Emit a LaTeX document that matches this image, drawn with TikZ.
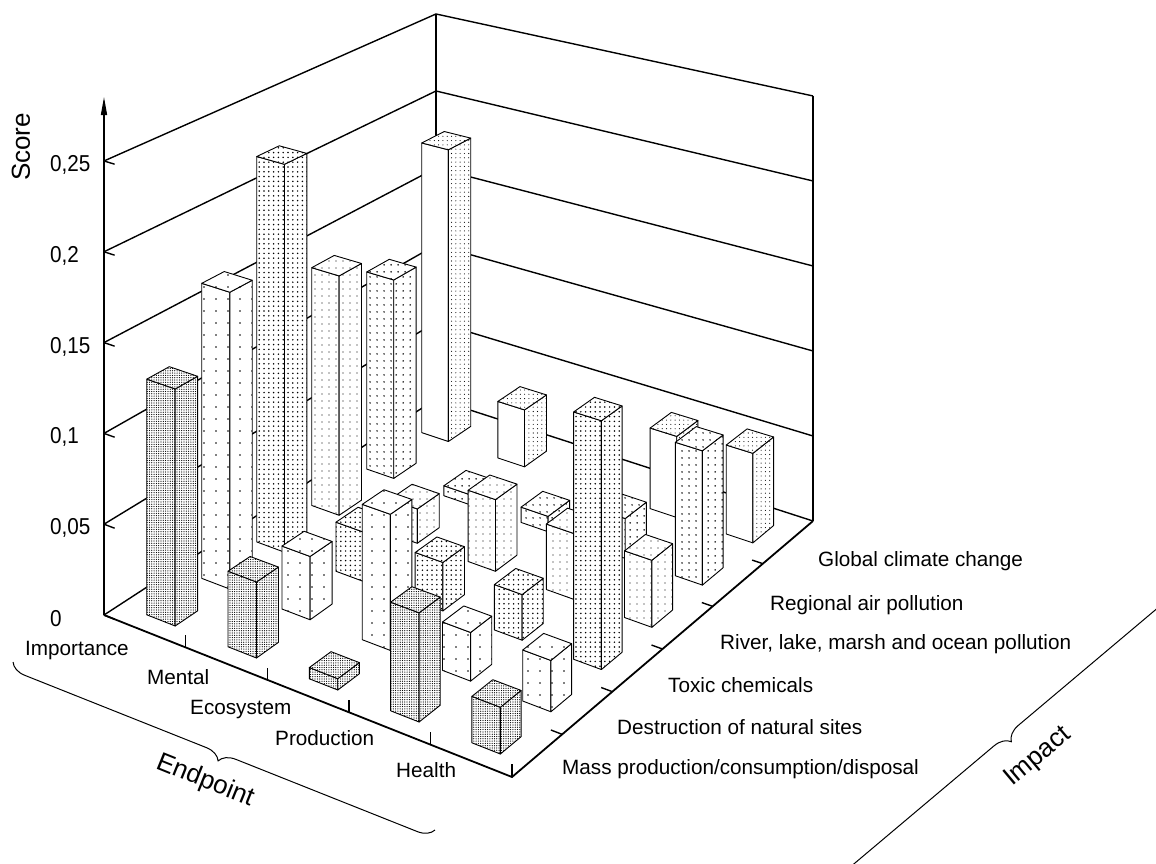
\documentclass[tikz,border=0pt]{standalone}
\usepackage{fontspec}
\setmainfont{Liberation Sans}
\newfontfamily\tickfont[FakeStretch=0.9]{Liberation Sans}
\usetikzlibrary{patterns.meta,arrows.meta,decorations.pathreplacing}

% floor point (endpoint X in 0..5, impact Y in 0..6) lifted by a score
\newcommand\proj[4]{%
  \pgfmathsetmacro\pu{#2/5}%
  \pgfmathsetmacro\pv{#3/6}%
  \pgfmathsetmacro\px{104+408*\pu+332*\pv-31*\pu*\pv}%
  \pgfmathsetmacro\py{615+162*\pu-216*\pv-40*\pu*\pv-(1816+154*\pu-276*\pv+6*\pu*\pv)*#4}%
  \coordinate (#1) at (\px,\py);}

% one bar: row, column, score, left face, right and top faces
\newcommand\scorebar[5]{%
  \pgfmathsetmacro\bxa{#1+0.325}\pgfmathsetmacro\bxb{#1+0.675}%
  \pgfmathsetmacro\bya{#2+0.295}\pgfmathsetmacro\byb{#2+0.705}%
  \proj{a}{\bxa}{\bya}{0}\proj{b}{\bxb}{\bya}{0}\proj{c}{\bxb}{\byb}{0}%
  \proj{at}{\bxa}{\bya}{#3}\proj{bt}{\bxb}{\bya}{#3}%
  \proj{ct}{\bxb}{\byb}{#3}\proj{dt}{\bxa}{\byb}{#3}%
  \path[face,#4] (a) -- (b) -- (bt) -- (at) -- cycle;
  \path[face,#5] (b) -- (c) -- (ct) -- (bt) -- cycle;
  \path[face,#5] (at) -- (bt) -- (ct) -- (dt) -- cycle;}

\tikzset{
  face/.style={draw,line width=0.9pt,line join=round,preaction={fill=white}},
  mp/.style={pattern={Dots[distance=2.3pt,radius=0.62pt]}},
  dn/.style={pattern={Dots[distance=12pt,radius=0.95pt]}},
  tc/.style={pattern={Dots[distance=4.8pt,radius=0.85pt]}},
  rl/.style={pattern={Dots[distance=7pt,radius=0.65pt]}},
  ra/.style={pattern={Dots[distance=6.5pt,radius=0.9pt]}},
  gc/.style={pattern={Dots[distance=4.3pt,radius=0.55pt]}},
  blank/.style={},
  wall/.style={line width=1.4pt},
  axis/.style={line width=1.8pt},
  curly/.style={decorate,decoration={brace,amplitude=16pt},line width=1pt},
  big/.style={font=\fontsize{26}{30}\selectfont}
}

\begin{document}
\begin{tikzpicture}[x=1pt,y=-1pt]
  \useasboundingbox (0,0) rectangle (1156,863);
  \clip (0,0) rectangle (1156,863);

  % Walls and score ticks
  \foreach \n/\txt in {0/0,1/{0,05},2/{0,1},3/{0,15},4/{0,2},5/{0,25}}{
    \pgfmathsetmacro\lev{\n*0.05}
    \proj{m\n}{0}{6}{\lev}
    \proj{r\n}{5}{6}{\lev}
    \proj{t\n}{0.13}{0}{\lev}
    \proj{l\n}{0}{0}{\lev}
    \node[anchor=west,inner sep=0pt,font=\tickfont\fontsize{23}{26}\selectfont]
      (v\n) at (50,\py+4) {\txt};
    \draw[wall] (l\n) -- (m\n) -- (r\n);
    \draw[wall] (l\n) -- (t\n);
  }
  \draw[wall] (m0) -- (m5);
  \draw[wall] (r0) -- (r5);

  % Score axis
  \coordinate (top) at (104,97);
  \draw[wall,-{Triangle[length=18pt,width=6pt]}] (l0) -- (top);
  \node[big,rotate=90] (score) at (21,147) {Score};

  % Bars, back to front
  \scorebar{0}{5}{0.183}{blank}{gc}
  \scorebar{0}{4}{0.121}{ra}{ra}
  \scorebar{1}{5}{0.035}{blank}{gc}
  \scorebar{0}{3}{0.142}{rl}{rl}
  \scorebar{1}{4}{0.006}{ra}{ra}
  \scorebar{0}{2}{0.224}{tc}{tc}
  \scorebar{1}{3}{0.020}{rl}{rl}
  \scorebar{2}{4}{0.009}{ra}{ra}
  \scorebar{3}{5}{0.048}{blank}{gc}
  \scorebar{0}{1}{0.167}{dn}{dn}
  \scorebar{1}{2}{0.028}{tc}{tc}
  \scorebar{2}{3}{0.041}{rl}{rl}
  \scorebar{3}{4}{0.023}{ra}{ra}
  \scorebar{4}{5}{0.052}{blank}{gc}
  \scorebar{0}{0}{0.130}{mp}{mp}
  \scorebar{1}{1}{0.035}{dn}{dn}
  \scorebar{2}{2}{0.027}{tc}{tc}
  \scorebar{3}{3}{0.037}{rl}{rl}
  \scorebar{4}{4}{0.076}{ra}{ra}
  \scorebar{1}{0}{0.041}{mp}{mp}
  \scorebar{2}{1}{0.074}{dn}{dn}
  \scorebar{3}{2}{0.025}{tc}{tc}
  \scorebar{4}{3}{0.037}{rl}{rl}
  \scorebar{2}{0}{0.006}{mp}{mp}
  \scorebar{3}{1}{0.026}{dn}{dn}
  \scorebar{4}{2}{0.134}{tc}{tc}
  \scorebar{3}{0}{0.057}{mp}{mp}
  \scorebar{4}{1}{0.027}{dn}{dn}
  \scorebar{4}{0}{0.024}{mp}{mp}

  % Floor axes
  \foreach \n in {1,...,5}{
    \proj{e\n}{\n}{0}{0}
    \proj{eu\n}{\n}{0}{0.0065}
    \draw[wall] (e\n) -- (eu\n);
    \proj{f\n}{5}{\n}{0}
    \proj{fi\n}{4.86}{\n}{0}
    \draw[wall] (f\n) -- (fi\n);
  }
  \draw[axis,line join=miter] (l0) -- (e5) -- (r0);

  % Labels
  \begin{scope}[every node/.style={anchor=base west,inner sep=0pt,font=\fontsize{20.7}{24}\selectfont}]
    \node (imp) at (25,655) {Importance};
    \node (men) at (147,684) {Mental};
    \node (eco) at (190,714) {Ecosystem};
    \node (pro) at (275,745) {Production};
    \node (hea) at (396,777) {Health};

    \node (gcc) at (818,566) {Global climate change};
    \node (rap) at (770,610) {Regional air pollution};
    \node (rlp) at (720,649) {River, lake, marsh and ocean pollution};
    \node (toc) at (668,692) {Toxic chemicals};
    \node (dns) at (617,734) {Destruction of natural sites};
    \node (mpc) at (562,774) {Mass production/consumption/disposal};
  \end{scope}

  % Braces
  \coordinate (eb1) at (435,830);
  \coordinate (eb2) at (13,662);
  \draw[curly] (eb1) -- (eb2);
  \node[big,rotate=-22] (endp) at (205,781) {Endpoint};

  \coordinate (ib1) at (1182,577);
  \coordinate (ib2) at (820,882);
  \draw[curly] (ib1) -- (ib2);
  \node[big,rotate=40] (impact) at (1038,757) {Impact};

\end{tikzpicture}
\end{document}
